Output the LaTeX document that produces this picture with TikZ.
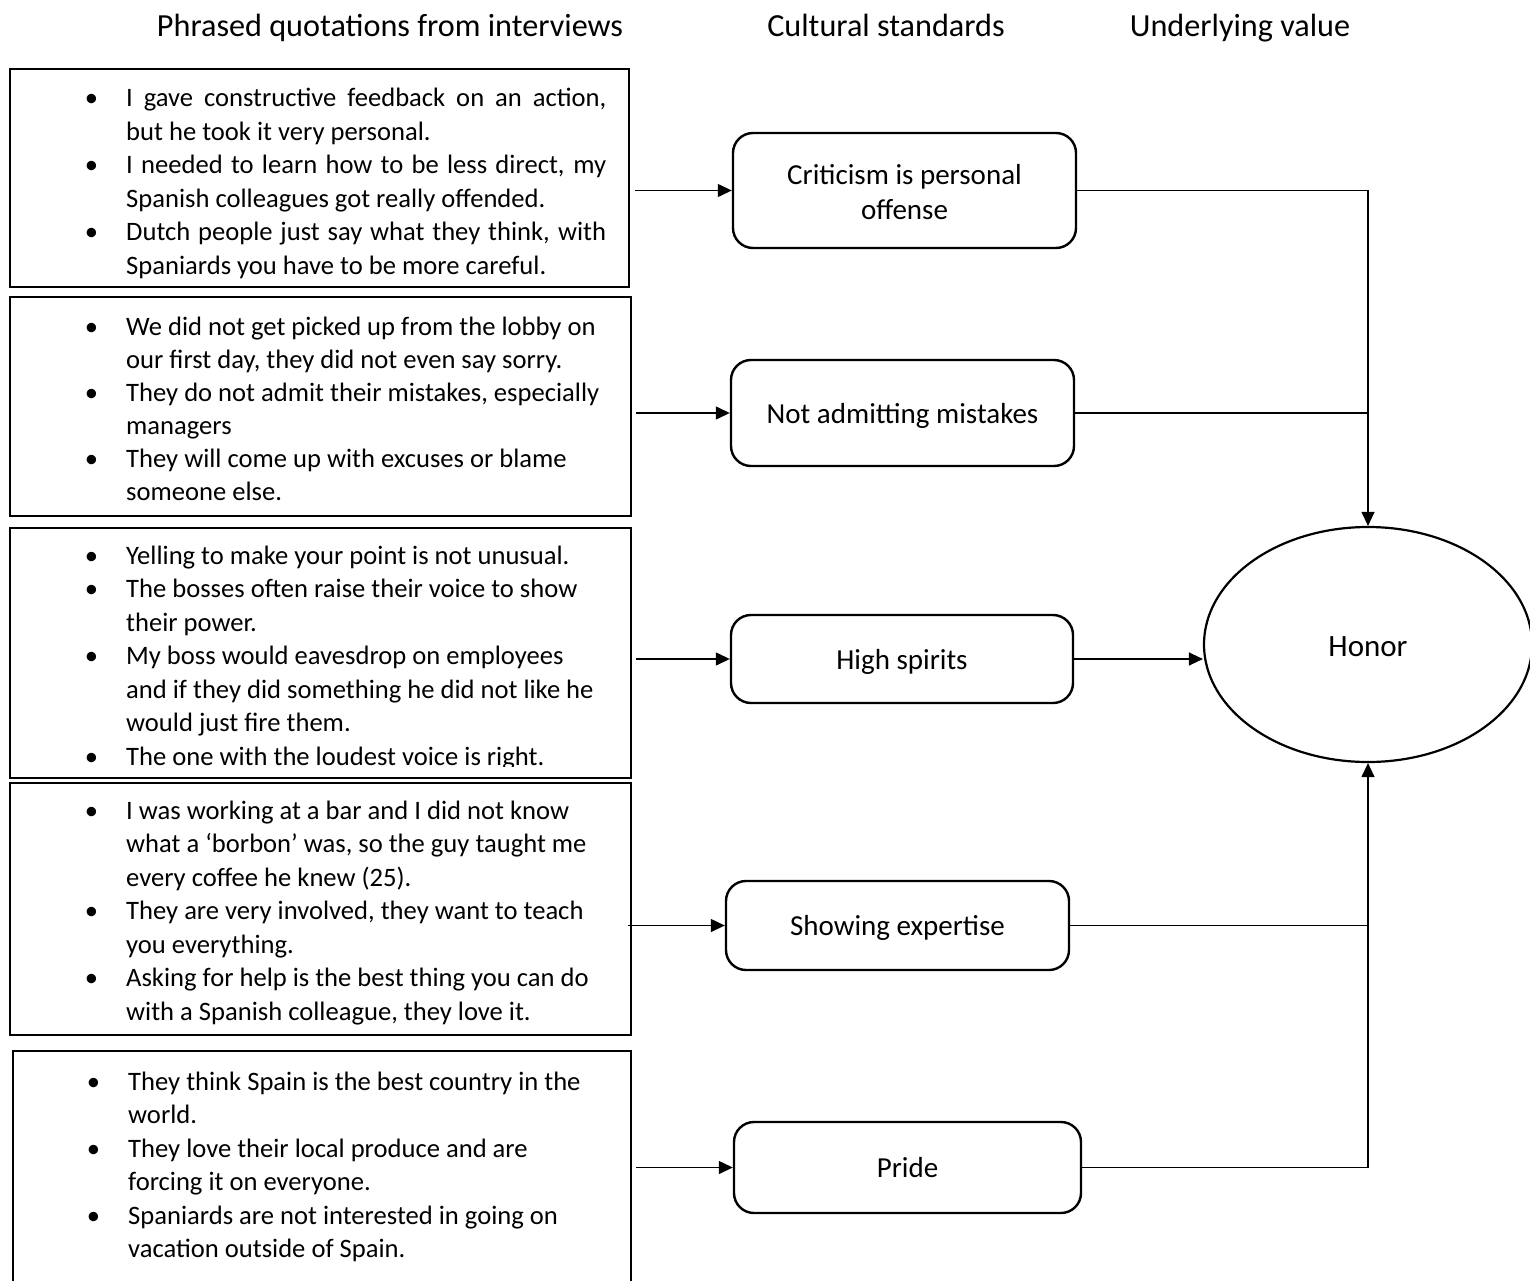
\documentclass[tikz,border=0pt]{standalone}
\usepackage{fontspec}
\setmainfont{Carlito}
\usetikzlibrary{arrows.meta,shapes.geometric}
\newcommand{\qitem}{\noindent\llap{\textbullet\hspace{28pt}}}
\begin{document}
\begin{tikzpicture}[x=1pt,y=-1pt,
  qframe/.style={draw,line width=2.3pt,rectangle,inner sep=0pt,anchor=north west},
  qtext/.style={anchor=base west,inner sep=0pt,text width=500pt,align=flush left,
    font=\fontsize{26.6}{33.5}\selectfont},
  stdbox/.style={draw,line width=2.4pt,rounded corners=20pt,align=center,inner sep=0pt,
    font=\fontsize{29}{35}\selectfont},
  oneline/.style={text height=26pt,text depth=6pt},
  hdr/.style={anchor=base,inner sep=0pt,font=\fontsize{32.2}{38}\selectfont},
  conn/.style={line width=1.3pt},
  arrowtip/.style={-{Triangle[length=14pt,width=13pt]}}]
\useasboundingbox (0,0) rectangle (1530,1281);

% headers
\node[hdr] (h1) at (390,37) {Phrased quotations from interviews};
\node[hdr] (h2) at (886,37) {Cultural standards};
\node[hdr] (h3) at (1240,37) {Underlying value};

% quotation frames
\node[qframe,minimum width=619pt,minimum height=218pt] (q1) at (9,68) {};
\node[qframe,minimum width=621pt,minimum height=219pt] (q2) at (9,296) {};
\node[qframe,minimum width=621pt,minimum height=250pt] (q3) at (9,527) {};
\node[qframe,minimum width=621pt,minimum height=252pt] (q4) at (9,782) {};
\node[qframe,minimum width=618pt,minimum height=260pt] (q5) at (12,1050) {};

% quotation texts
\node[qtext,text width=480pt,align=justify] (t1) at (126,107) {%
\qitem I gave constructive feedback on an action,\linebreak but he took it very personal.\par
\qitem I needed to learn how to be less direct, my\linebreak Spanish colleagues got really offended.\par
\qitem Dutch people just say what they think, with\linebreak Spaniards you have to be more careful.};

\node[qtext,font=\fontsize{26.6}{33}\selectfont] (t2) at (126,335) {%
\qitem We did not get picked up from the lobby on\\ our first day, they did not even say sorry.\par
\qitem They do not admit their mistakes, especially\\ managers\par
\qitem They will come up with excuses or blame\\ someone else.};

\begin{scope}
\clip (9,527) rectangle (632,766);
\node[qtext] (t3) at (126,564) {%
\qitem Yelling to make your point is not unusual.\par
\qitem The bosses often raise their voice to show\\ their power.\par
\qitem My boss would eavesdrop on employees\\ and if they did something he did not like he\\ would just fire them.\par
\qitem The one with the loudest voice is right.};
\end{scope}

\node[qtext] (t4) at (126,819) {%
\qitem I was working at a bar and I did not know\\ what a ‘borbon’ was, so the guy taught me\\ every coffee he knew (25).\par
\qitem They are very involved, they want to teach\\ you everything.\par
\qitem Asking for help is the best thing you can do\\ with a Spanish colleague, they love it.};

\node[qtext] (t5) at (128,1090) {%
\qitem They think Spain is the best country in the\\ world.\par
\qitem They love their local produce and are\\ forcing it on everyone.\par
\qitem Spaniards are not interested in going on\\ vacation outside of Spain.};

% cultural standards
\node[stdbox,minimum width=343pt,minimum height=115pt] (c1) at (904.5,190.5) {};
\node[align=center,inner sep=0pt,font=\fontsize{29}{35}\selectfont] (c1t) at ([yshift=-2pt]c1.center) {Criticism is personal\\offense};
\node[stdbox,oneline,minimum width=343pt,minimum height=106pt] (c2) at (902.5,413) {Not admitting mistakes};
\node[stdbox,oneline,minimum width=342pt,minimum height=88pt] (c3) at (902,659) {High spirits};
\node[stdbox,oneline,minimum width=343pt,minimum height=89pt] (c4) at (897.5,925.5) {Showing expertise};
\node[stdbox,oneline,minimum width=347pt,minimum height=91pt] (c5) at (907.5,1167.5) {Pride};

% underlying value
\node[draw,ellipse,line width=2.2pt,minimum width=328pt,minimum height=235pt,inner sep=0pt,
  text height=23pt,text depth=0pt,font=\fontsize{31}{37}\selectfont] (h) at (1368,644.5) {Honor};

% connectors left -> standards
\draw[conn,arrowtip] ([xshift=5pt]q1.east |- c1.west) -- (c1.west);
\draw[conn,arrowtip] ([xshift=4pt]q2.east |- c2.west) -- (c2.west);
\draw[conn,arrowtip] ([xshift=4pt]q3.east |- c3.west) -- (c3.west);
\draw[conn,arrowtip] ([xshift=-4pt]q4.east |- c4.west) -- (c4.west);
\draw[conn,arrowtip] ([xshift=4pt]q5.east |- c5.west) -- (c5.west);

% connectors standards -> value
\draw[conn,arrowtip] (c1.east) -| (h.north);
\draw[conn] (c2.east) -- (c2.east -| h.north);
\draw[conn,arrowtip] (c3.east) -- (c3.east -| h.west);
\draw[conn] (c4.east) -- (c4.east -| h.south);
\draw[conn,arrowtip] (c5.east) -| (h.south);
\end{tikzpicture}
\end{document}
